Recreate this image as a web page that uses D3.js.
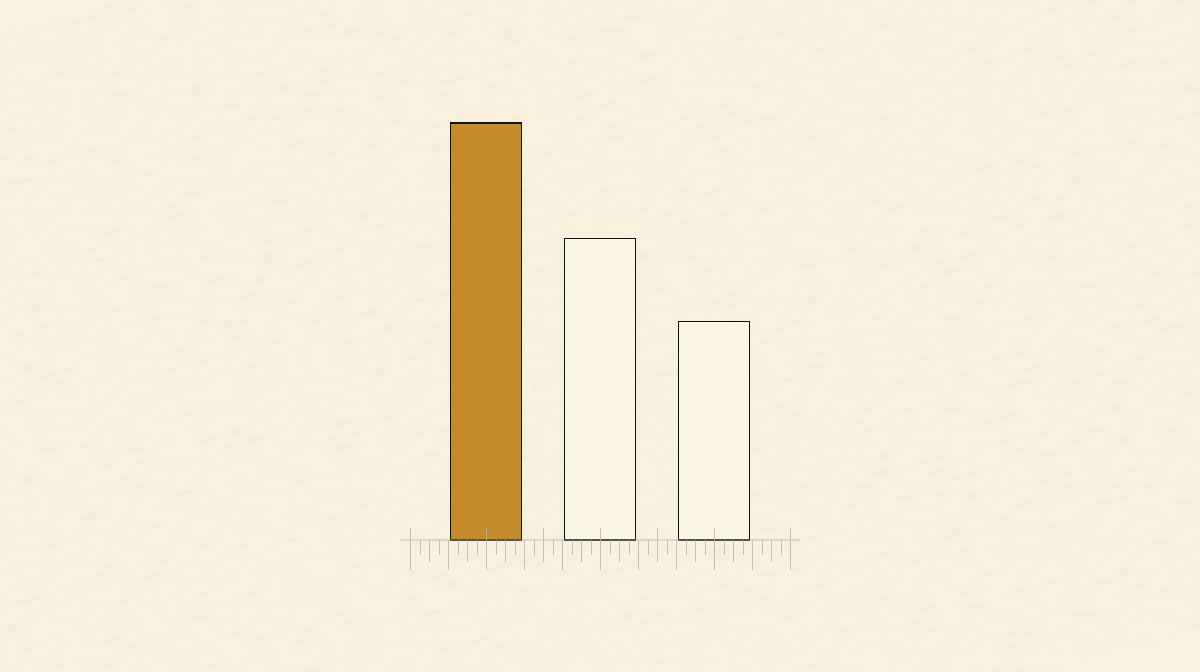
<!DOCTYPE html>
<html>
<head>
<meta charset="utf-8">
<script src="https://cdn.jsdelivr.net/npm/d3@7"></script>
<style>
	html, body {margin:0; padding:0; background:#f7f0dc;}
	svg {display:block;}
</style>
</head>
<body>
<svg id="chart" width="1200" height="672"></svg>
<script>
// three bars standing on a ruler

var categories = ['A', 'B', 'C'];
var values = [100, 72.4, 52.5];
var highlighted = ['A'];

var ruler_units = 40;        // ruler is split in 40 small steps
var band_units = [2, 38];    // the bars take up this part of the ruler

var width = 1200, height = 672;
var base_y = 540;
var chart_h = 417;

var svg = d3.select('#chart');

// paper texture
var defs = svg.append('defs');
var flt = defs.append('filter').attr('id', 'paper')
	.attr('x', 0).attr('y', 0).attr('width', '100%').attr('height', '100%');
flt.append('feTurbulence')
	.attr('type', 'fractalNoise')
	.attr('baseFrequency', '0.05 0.22')
	.attr('numOctaves', 4)
	.attr('seed', 7)
	.attr('result', 'noise');
flt.append('feColorMatrix')
	.attr('in', 'noise')
	.attr('type', 'matrix')
	.attr('values', '0 0 0 0 0.6  0 0 0 0 0.55  0 0 0 0 0.42  0 0 0 -1.2 0.66');

svg.append('rect')
	.attr('width', width).attr('height', height)
	.attr('fill', '#f8f1de');
svg.append('rect')
	.attr('width', width).attr('height', height)
	.attr('filter', 'url(#paper)')
	.attr('opacity', 0.18)
	.attr('transform', 'rotate(-14 600 336) scale(1.3) translate(-140 -80)');

// scales
var ruler = d3.scaleLinear().domain([0, ruler_units]).range([410, 790]);

var x = d3.scaleBand()
	.domain(categories)
	.range([ruler(band_units[0]), ruler(band_units[1])])
	.paddingInner(0.375)
	.paddingOuter(0.1875);

var y = d3.scaleLinear().domain([0, 100]).range([base_y, base_y - chart_h]);

// bars
var g_bars = svg.append('g').attr('class', 'bars');
g_bars.selectAll('rect').data(categories).enter().append('rect')
	.attr('x', function (d) {return x(d);})
	.attr('y', function (d, i) {return y(values[i]);})
	.attr('width', x.bandwidth())
	.attr('height', function (d, i) {return y(0) - y(values[i]);})
	.attr('fill', function (d) {return highlighted.indexOf(d) >= 0 ? '#c48b2d' : '#fbf5e4';})
	.attr('stroke', '#111')
	.attr('stroke-width', 1.1)
	.attr('shape-rendering', 'crispEdges');

// ruler on top
var g_ruler = svg.append('g').attr('class', 'ruler')
	.attr('stroke', '#bab3a3').attr('stroke-opacity', 0.8).attr('stroke-width', 1);

g_ruler.append('line')
	.attr('x1', ruler(0) - 10).attr('x2', ruler(ruler_units) + 10)
	.attr('y1', base_y).attr('y2', base_y);

// tall marks: ruler ends, bar centres and the gaps between bars
var marks = [ruler(0), ruler(ruler_units)];
categories.forEach(function (c, i) {
	marks.push(x(c) + x.bandwidth()/2);
	if (i > 0) marks.push(x(c) - x.step()*x.paddingInner()/2);
});

g_ruler.selectAll('line.tick').data(d3.range(0, ruler_units + 1)).enter().append('line')
	.attr('class', 'tick')
	.attr('x1', function (d) {return Math.round(ruler(d)) + 0.5;})
	.attr('x2', function (d) {return Math.round(ruler(d)) + 0.5;})
	.attr('y1', function (d) {
		var px = ruler(d);
		var up = marks.some(function (m) {return Math.abs(m - px) < 2;});
		return up ? base_y - 12 : base_y;
	})
	.attr('y2', function (d) {
		if (d % 4 == 0) return base_y + 30;
		if (d % 2 == 0) return base_y + 22;
		return base_y + 15;
	});
</script>
</body>
</html>
